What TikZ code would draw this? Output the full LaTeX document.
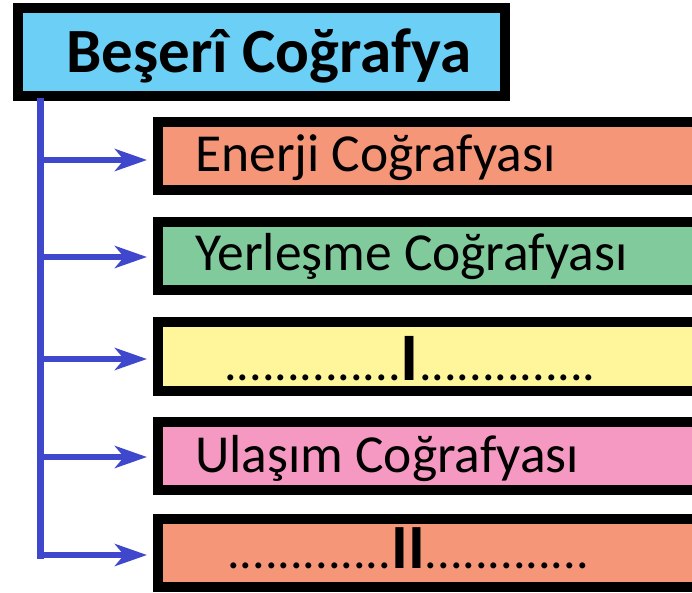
\documentclass[tikz,border=0pt]{standalone}
\usepackage{fontspec}
\setmainfont{Carlito}
\usetikzlibrary{arrows.meta,calc}
\definecolor{skyb}{RGB}{108,207,246}
\definecolor{salmon}{RGB}{245,150,121}
\definecolor{mint}{RGB}{128,202,155}
\definecolor{lemon}{RGB}{255,246,155}
\definecolor{rosy}{RGB}{245,153,194}
\definecolor{arrblue}{RGB}{63,72,204}
\begin{document}
\begin{tikzpicture}[x=1pt,y=-1pt,
  box/.style={rectangle,draw=black,line width=10pt,inner sep=0pt,anchor=north west,minimum width=580pt},
  lbl/.style={inner sep=0pt,anchor=base west,font=\fontsize{53.5}{60}\selectfont},
  dots/.style={inner sep=0pt,anchor=base west,font=\fontsize{50}{60}\selectfont},
  conn/.style={draw=arrblue,line width=6pt,shorten >=6pt,-{Stealth[length=32pt,width=22pt,inset=9pt]}},
  trunk/.style={draw=arrblue,line width=7pt,line cap=rect}]
\useasboundingbox (0,0) rectangle (692,592);
\clip (0,0) rectangle (692,592);
\fill[white] (0,0) rectangle (692,592);
% boxes (anchored at their outer edge)
\node[box,fill=skyb,minimum width=487pt,minimum height=88pt] (title) at (13,3) {};
\node[box,fill=salmon,minimum height=68pt] (b1) at (153,117) {};
\node[box,fill=mint,minimum height=68pt] (b2) at (153,217) {};
\node[box,fill=lemon,minimum height=69pt] (b3) at (153,317) {};
\node[box,fill=rosy,minimum height=68pt] (b4) at (153,417) {};
\node[box,fill=salmon,minimum height=68pt] (b5) at (153,514) {};
% texts
\node[inner sep=0pt,anchor=base,font=\fontsize{63}{70}\selectfont\bfseries] (tt) at (269,72) {Beşerî Coğrafya};
\node[lbl] (l1) at (195,171) {Enerji Coğrafyası};
\node[lbl] (l2) at (195,270) {Yerleşme Coğrafyası};
\node[dots] (l3) at (224,380) {..............{\fontsize{68}{70}\selectfont\bfseries I}..............};
\node[lbl] (l4) at (195,472) {Ulaşım Coğrafyası};
\node[dots] (l5) at (227,568) {.............{\fontsize{63}{70}\selectfont\bfseries II}.............};
% connectors
\coordinate (tx) at (40,0);
\coordinate (a1) at (40,160);
\coordinate (a2) at (40,257);
\coordinate (a3) at (40,359);
\coordinate (a4) at (40,457);
\coordinate (a5) at (40,555);
\draw[trunk] (title.south -| tx) -- (a5);
\draw[conn] (a1) -- (a1 -| b1.west);
\draw[conn] (a2) -- (a2 -| b2.west);
\draw[conn] (a3) -- (a3 -| b3.west);
\draw[conn] (a4) -- (a4 -| b4.west);
\draw[conn] (a5) -- (a5 -| b5.west);
\end{tikzpicture}
\end{document}
